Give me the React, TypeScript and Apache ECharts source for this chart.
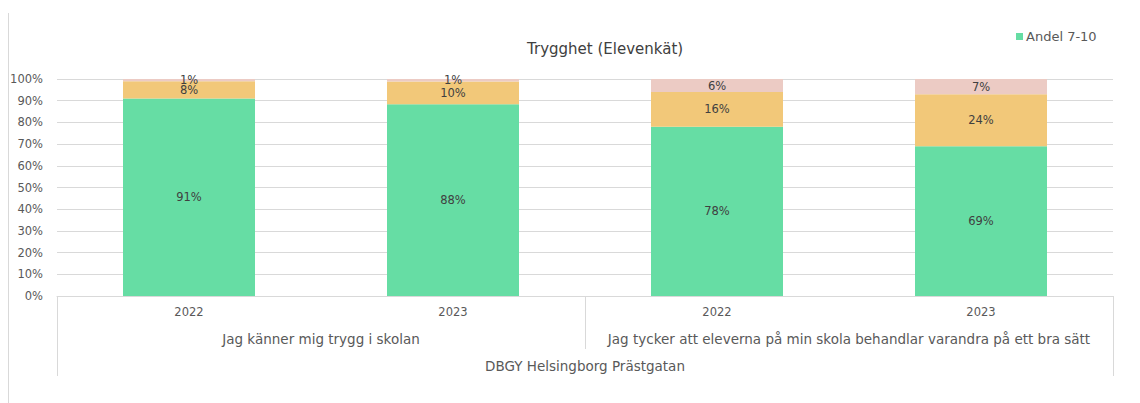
import React, { useEffect, useRef } from "react";
import * as echarts from "echarts";

const years = ["2022", "2023", "2022", "2023"];
const questions = [
  "Jag känner mig trygg i skolan",
  "Jag tycker att eleverna på min skola behandlar varandra på ett bra sätt",
];
const school = ["DBGY Helsingborg Prästgatan"];
const andel7to10 = [91, 88.4, 78, 69];
const andel5to6 = [8, 10.4, 16, 24];
const andel1to4 = [1, 1.2, 6, 7];
const yTicks = [0, 10, 20, 30, 40, 50, 60, 70, 80, 90, 100];

const FONT = "DejaVu Sans";
const AXIS_COLOR = "#595959";
const LINE_COLOR = "#D9D9D9";

export default function App() {
  const ref = useRef<HTMLDivElement>(null);
  useEffect(() => {
    if (!ref.current) return;
    const chart = echarts.init(ref.current, undefined, { renderer: "svg" });
    const label = {
      show: true,
      position: "inside" as const,
      color: "#404040",
      fontFamily: FONT,
      fontSize: 11.5,
      formatter: (p: any) => Math.round(p.value) + "%",
    };
    chart.setOption({
      animation: false,
      backgroundColor: "#ffffff",
      textStyle: { fontFamily: FONT },
      title: {
        text: "Trygghet (Elevenkät)",
        left: 522,
        top: 36,
        textStyle: { fontFamily: FONT, fontSize: 15, fontWeight: "normal", color: "#404040" },
      },
      legend: {
        data: ["Andel 7-10"],
        left: 1011,
        top: 25,
        itemWidth: 7,
        itemHeight: 7,
        itemGap: 4,
        icon: "rect",
        textStyle: { fontFamily: FONT, fontSize: 13, color: AXIS_COLOR, padding: [0, 0, 0, -2] },
      },
      grid: { left: 57, right: 27, top: 79, bottom: 107 },
      xAxis: [
        {
          type: "category",
          data: years,
          position: "bottom",
          axisLine: { show: true, lineStyle: { color: LINE_COLOR } },
          axisTick: { show: false },
          axisLabel: { color: AXIS_COLOR, fontFamily: FONT, fontSize: 11.5, margin: 10 },
        },
        {
          type: "category",
          data: questions,
          position: "bottom",
          axisLine: { show: false },
          axisTick: { show: true, length: 53, lineStyle: { color: LINE_COLOR } },
          axisLabel: { color: AXIS_COLOR, fontFamily: FONT, fontSize: 13.5, margin: 36, interval: 0 },
        },
        {
          type: "category",
          data: school,
          position: "bottom",
          axisLine: { show: false },
          axisTick: { show: true, length: 80, lineStyle: { color: LINE_COLOR } },
          axisLabel: { color: AXIS_COLOR, fontFamily: FONT, fontSize: 13.5, margin: 63 },
        },
      ],
      yAxis: {
        type: "value",
        min: 0,
        max: 100,
        interval: 10,
        axisLine: { show: false },
        axisTick: { show: false },
        splitLine: { lineStyle: { color: LINE_COLOR } },
        axisLabel: {
          color: AXIS_COLOR,
          fontFamily: FONT,
          fontSize: 11.5,
          margin: 14,
          formatter: (v: number) => (yTicks.includes(v) ? v + "%" : ""),
        },
      },
      series: [
        {
          name: "Andel 7-10",
          type: "bar",
          stack: "s",
          barWidth: "50%",
          data: andel7to10,
          itemStyle: { color: "#66DDA4" },
          label,
        },
        {
          name: "Andel 5-6",
          type: "bar",
          stack: "s",
          barWidth: "50%",
          data: andel5to6,
          itemStyle: { color: "#F2C879" },
          label,
        },
        {
          name: "Andel 1-4",
          type: "bar",
          stack: "s",
          barWidth: "50%",
          data: andel1to4,
          itemStyle: { color: "#ECCBC4" },
          label,
        },
      ],
      graphic: [
        {
          type: "line",
          shape: { x1: 8.5, y1: 13, x2: 8.5, y2: 403 },
          style: { stroke: LINE_COLOR, lineWidth: 1 },
        },
      ],
    });
    return () => chart.dispose();
  }, []);
  return (
    <div
      ref={ref}
      style={{ position: "absolute", left: 0, top: 0, width: 1140, height: 403 }}
    />
  );
}
